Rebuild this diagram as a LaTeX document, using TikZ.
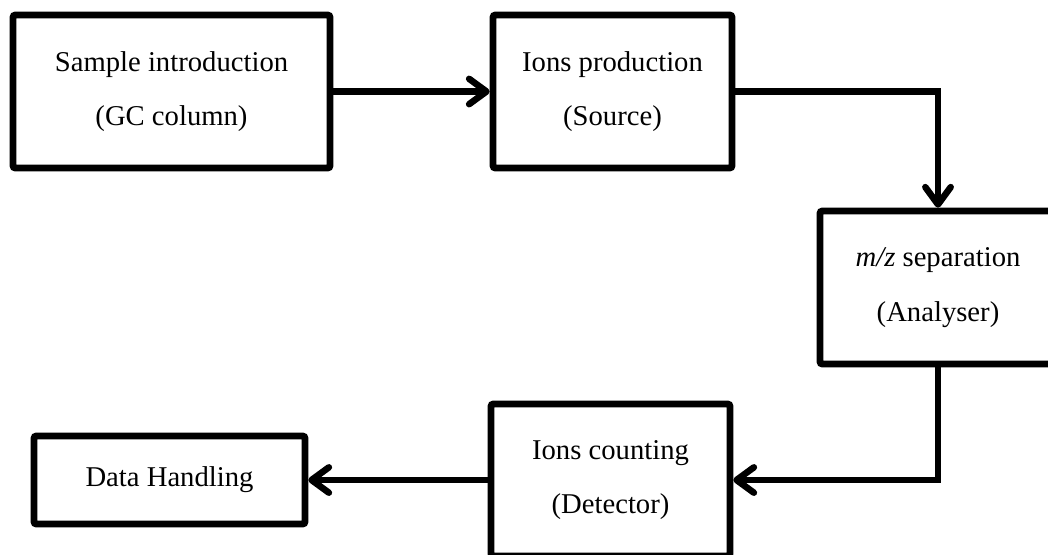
\documentclass[tikz,border=0pt]{standalone}
\usepackage{fontspec}
\setmainfont{Liberation Serif}
\usetikzlibrary{arrows.meta}

\begin{document}
\begin{tikzpicture}[x=0.75pt,y=-0.75pt,
		block/.style={draw,line width=4.9pt,rounded corners=1.5pt,align=center,minimum height=114.75pt,font=\fontsize{21.5}{41}\selectfont},
		>={Straight Barb[length=13pt,width=19pt,line cap=round,line join=round]},
		flow/.style={->,line width=4.9pt}]
			\useasboundingbox (0,0) rectangle (1048,554);
			\clip (0,0) rectangle (1048,554);

			\node[block,minimum width=237.75pt] (GC) at (171.5,91.5) {Sample introduction \\ (GC column)};
			\node[block,minimum width=179.25pt] (SRC) at (612.5,91.5) {Ions production \\ (Source)};
			\node[block,minimum width=177pt] (AN) at (938,287.5) {\textit{m/z} separation \\ (Analyser)};
			\node[block,minimum width=179.25pt,minimum height=114pt] (DET) at (610.5,480) {Ions counting \\ (Detector)};
			\node[block,minimum width=203.25pt,minimum height=66pt] (DATA) at (169.5,480) {Data Handling};

			\path[flow] (GC) edge (SRC)
						 (DET) edge (DATA);
			\draw[flow] (SRC) -| (AN);
			\draw[flow] (AN) |- (DET);
		\end{tikzpicture}
\end{document}
